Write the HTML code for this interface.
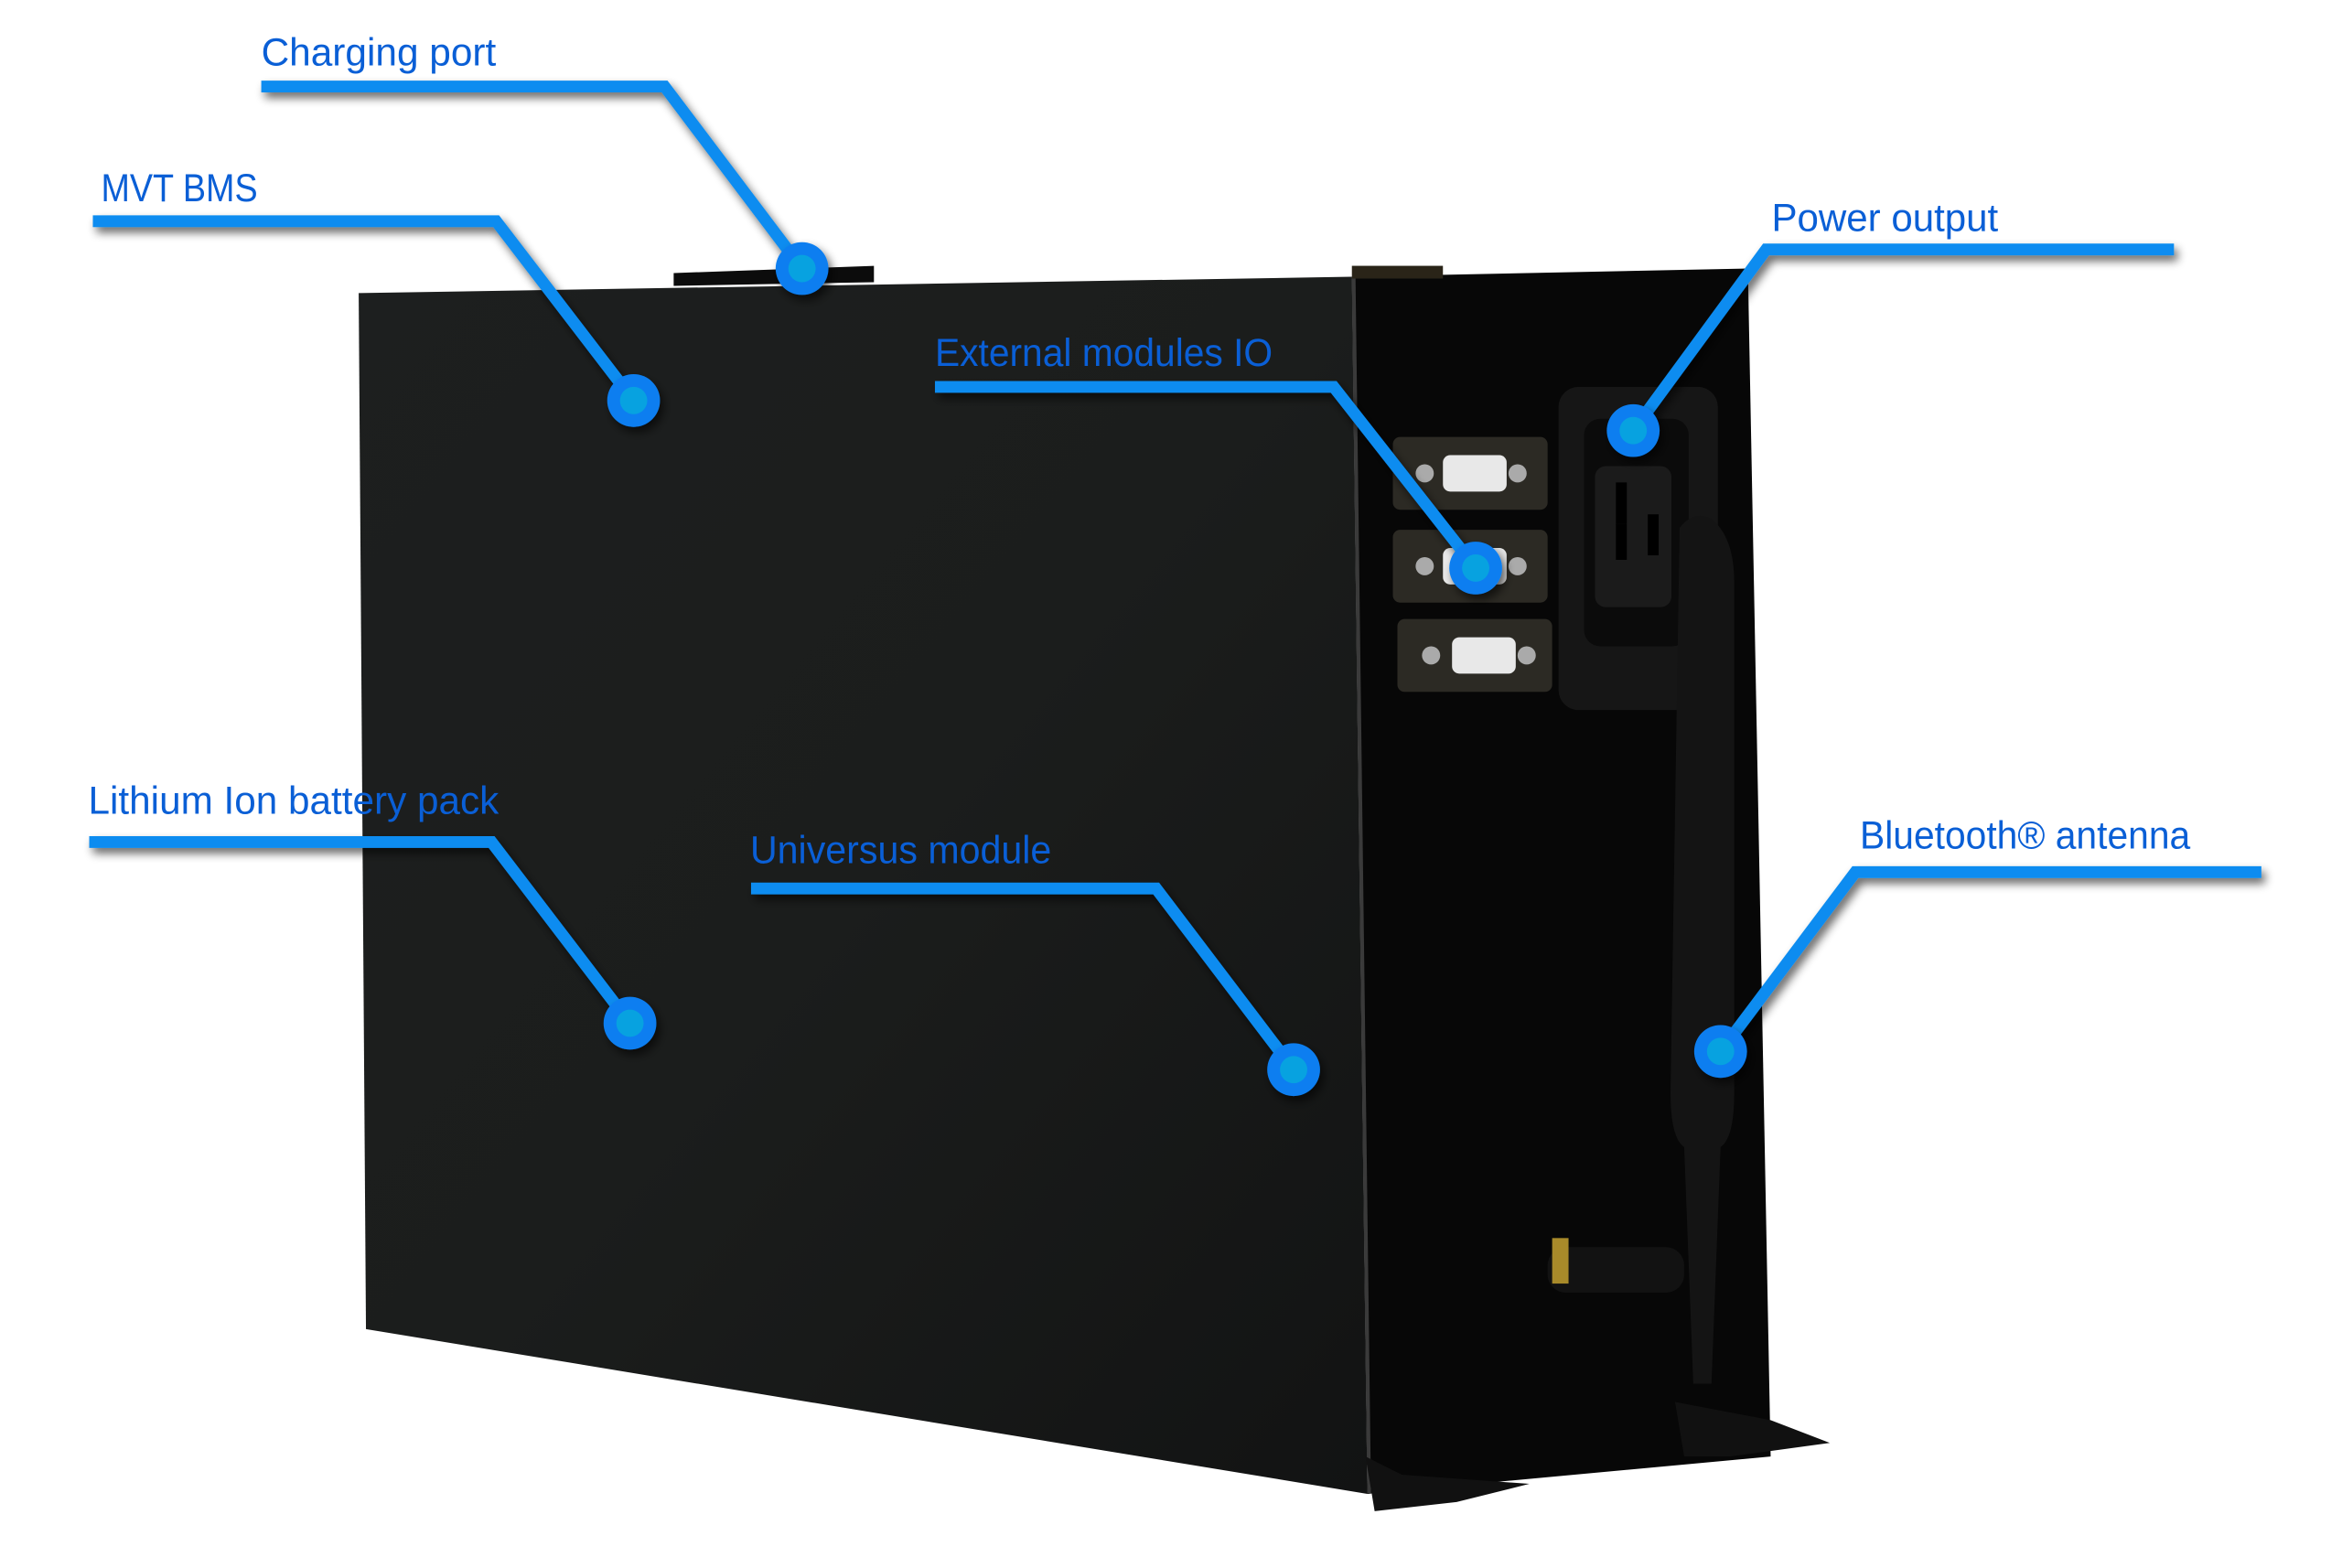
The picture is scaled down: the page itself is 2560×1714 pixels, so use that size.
<!DOCTYPE html>
<html><head><meta charset="utf-8"><style>html,body{margin:0;padding:0;background:#fff;width:2560px;height:1714px;overflow:hidden}</style></head>
<body>
<svg width="2560" height="1714" viewBox="0 0 2560 1714" xmlns="http://www.w3.org/2000/svg">
<defs>
<linearGradient id="fr" x1="0" y1="0" x2="1" y2="1">
<stop offset="0" stop-color="#1d1f1f"/><stop offset="0.5" stop-color="#1b1d1c"/><stop offset="1" stop-color="#121313"/></linearGradient>
<filter id="sh" x="-10%" y="-10%" width="130%" height="130%"><feGaussianBlur in="SourceAlpha" stdDeviation="5"/><feOffset dx="4" dy="6"/><feComponentTransfer><feFuncA type="linear" slope="0.6"/></feComponentTransfer><feMerge><feMergeNode/><feMergeNode in="SourceGraphic"/></feMerge></filter>
</defs>
<g transform="scale(0.9951)">
<!-- box -->
<polygon points="394,322 1485,304 1502,1641 402,1460" fill="url(#fr)"/>
<polygon points="1485,304 1920,295 1945,1600 1502,1641" fill="#070707"/>
<line x1="1487" y1="306" x2="1504" y2="1640" stroke="#3a3a3a" stroke-width="4"/>
<polygon points="740,300 960,292 960,310 740,314" fill="#0c0c0c"/>
<rect x="1485" y="292" width="100" height="14" fill="#2a2418"/>
<!-- feet -->
<polygon points="1500,1600 1540,1620 1680,1630 1600,1650 1510,1660" fill="#111"/>
<polygon points="1840,1540 1945,1560 2010,1585 1900,1600 1850,1600" fill="#111"/>
<!-- DB9 connectors -->
<g fill="#2c2a24"><rect x="1530" y="480" width="170" height="80" rx="8"/><rect x="1530" y="582" width="170" height="80" rx="8"/><rect x="1535" y="680" width="170" height="80" rx="8"/></g>
<g fill="#e8e8e8"><rect x="1585" y="500" width="70" height="40" rx="8"/><rect x="1585" y="602" width="70" height="40" rx="8"/><rect x="1595" y="700" width="70" height="40" rx="8"/></g>
<g fill="#aaa"><circle cx="1565" cy="520" r="10"/><circle cx="1667" cy="520" r="10"/><circle cx="1565" cy="622" r="10"/><circle cx="1667" cy="622" r="10"/><circle cx="1572" cy="720" r="10"/><circle cx="1677" cy="720" r="10"/></g>
<!-- power socket -->
<rect x="1712" y="425" width="175" height="355" rx="22" fill="#161616"/>
<rect x="1740" y="460" width="115" height="250" rx="18" fill="#0b0b0b"/>
<rect x="1752" y="512" width="84" height="155" rx="12" fill="#1b1b1b"/>
<rect x="1775" y="530" width="12" height="45" fill="#000"/><rect x="1775" y="575" width="12" height="40" fill="#000"/><rect x="1810" y="565" width="12" height="45" fill="#000"/>
<!-- antenna -->
<path d="M1845,580 Q1860,560 1880,570 Q1905,590 1905,640 L1905,1200 Q1905,1250 1890,1260 L1880,1520 L1860,1520 L1850,1260 Q1835,1250 1835,1200 Z" fill="#141414"/>
<rect x="1700" y="1370" width="150" height="50" rx="20" fill="#121212"/>
<rect x="1705" y="1360" width="18" height="50" fill="#a88a2a"/>
<!-- callouts -->
<g filter="url(#sh)" fill="none" stroke="#0a8cf0" stroke-width="13" stroke-linejoin="miter">
<polyline points="287,95 730,95 881,295"/>
<polyline points="102,243 545,243 696,440"/>
<polyline points="1027,425 1465,425 1621,624"/>
<polyline points="2388,274 1940,274 1794,473"/>
<polyline points="98,925 540,925 692,1124"/>
<polyline points="825,976 1270,976 1421,1175"/>
<polyline points="2484,958 2038,958 1890,1155"/>
</g>
<g filter="url(#sh)">
<g fill="#0a7ef0"><circle cx="881" cy="295" r="29"/><circle cx="696" cy="440" r="29"/><circle cx="1621" cy="624" r="29"/><circle cx="1794" cy="473" r="29"/><circle cx="692" cy="1124" r="29"/><circle cx="1421" cy="1175" r="29"/><circle cx="1890" cy="1155" r="29"/></g>
</g>
<g fill="#07a2e0"><circle cx="881" cy="295" r="15"/><circle cx="696" cy="440" r="15"/><circle cx="1621" cy="624" r="15"/><circle cx="1794" cy="473" r="15"/><circle cx="692" cy="1124" r="15"/><circle cx="1421" cy="1175" r="15"/><circle cx="1890" cy="1155" r="15"/></g>
<g font-family="'Liberation Sans Narrow','Liberation Sans',sans-serif" font-size="43" fill="#0a5fd6">
<text x="287" y="72" textLength="258" lengthAdjust="spacingAndGlyphs">Charging port</text>
<text x="111" y="221" textLength="172" lengthAdjust="spacingAndGlyphs">MVT BMS</text>
<text x="1027" y="402" textLength="371" lengthAdjust="spacingAndGlyphs">External modules IO</text>
<text x="1946" y="254" textLength="249" lengthAdjust="spacingAndGlyphs">Power output</text>
<text x="97" y="894" textLength="451" lengthAdjust="spacingAndGlyphs">Lithium Ion battery pack</text>
<text x="824" y="948" textLength="331" lengthAdjust="spacingAndGlyphs">Universus module</text>
<text x="2043" y="932" textLength="363" lengthAdjust="spacingAndGlyphs">Bluetooth® antenna</text>
</g>
</g>
</svg>
</body></html>
